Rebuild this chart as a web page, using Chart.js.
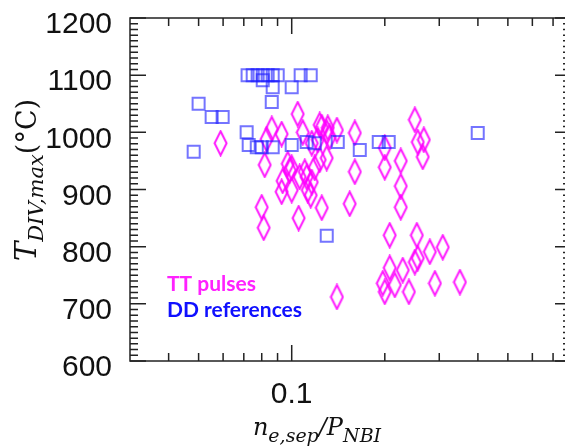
<!DOCTYPE html>
<html>
<head>
<meta charset="utf-8">
<script src="https://cdn.jsdelivr.net/npm/chart.js@4.4.1/dist/chart.umd.min.js"></script>
<style>
html, body { margin: 0; padding: 0; background: #fff; overflow: hidden; }
#wrap { width: 576px; height: 448px; }
</style>
</head>
<body>
<div id="wrap"><canvas id="chart"></canvas></div>
<script>
// DD references (blue squares)
const ddX = [0.0500, 0.0551, 0.0598, 0.0482, 0.0715, 0.0720, 0.0748, 0.0776, 0.0806, 0.0836,
             0.0868, 0.0901, 0.1069, 0.1152, 0.0806, 0.0868, 0.1000, 0.0862, 0.0726, 0.0771,
             0.0800, 0.0868, 0.1000, 0.1118, 0.1187, 0.1409, 0.1660, 0.1912, 0.2059, 0.3995, 0.1298];
const ddY = [1050, 1027, 1027, 966, 1000, 1100, 1100, 1100, 1100, 1100,
             1100, 1100, 1100, 1100, 1091, 1079, 1079, 1053, 978, 974,
             974, 974, 978, 983, 981, 983, 969, 983, 983, 999, 819];

// TT pulses (magenta diamonds)
const ttX = [0.0589, 0.1046, 0.0862, 0.0928, 0.0830, 0.0818, 0.0971, 0.1000, 0.0935, 0.0928,
             0.1000, 0.1118, 0.1127, 0.1152, 0.1161, 0.1187, 0.1232, 0.0800, 0.0812, 0.1053,
             0.1251, 0.1600, 0.1540, 0.1600, 0.2000, 0.2000, 0.2253, 0.2253, 0.2253, 0.2501,
             0.2557, 0.2674, 0.2653, 0.2075, 0.2539, 0.3080, 0.2797, 0.2501, 0.2557, 0.2075,
             0.2286, 0.1970, 0.2000, 0.2155, 0.2393, 0.2904, 0.3498, 0.1400, 0.1232, 0.1308,
             0.1400, 0.1298, 0.1328, 0.1214, 0.1161, 0.1086, 0.1251, 0.1298, 0.1102, 0.1061, 0.0985];
const ttY = [981, 1032, 1006, 997, 988, 943, 945, 938, 915, 896,
             899, 922, 899, 890, 913, 938, 952, 869, 833, 850,
             868, 931, 875, 999, 973, 939, 950, 906, 869, 1022,
             983, 987, 957, 820, 820, 799, 791, 773, 780, 763,
             759, 736, 721, 733, 721, 736, 738, 712, 1013, 1008,
             1004, 1000, 992, 987, 981, 1000, 1009, 955, 931, 922, 934];

const yTicks = [600, 700, 800, 900, 1000, 1100, 1200];
const xTicks = [0.1];
const xMinorTicks = [0.04, 0.05, 0.06, 0.07, 0.08, 0.09, 0.2, 0.3, 0.4, 0.5, 0.6, 0.7];
const seriesNames = ['TT pulses', 'DD references'];

// tall diamond marker
function makeDiamond() {
    const c = document.createElement('canvas');
    c.width = 15;
    c.height = 27;
    const g = c.getContext('2d');
    g.strokeStyle = 'rgba(255,0,255,0.9)';
    g.lineWidth = 2;
    g.beginPath();
    g.moveTo(7.5, 1.5);
    g.lineTo(13.5, 13.5);
    g.lineTo(7.5, 25.5);
    g.lineTo(1.5, 13.5);
    g.closePath();
    g.stroke();
    return c;
}

// draw text pieces in a row, subscripts shifted down
function drawParts(ctx, parts, cx, baseY) {
    let total = 0;
    parts.forEach(p => { ctx.font = p.font; p.w = ctx.measureText(p.text).width; total += p.w; });
    let px = cx - total / 2;
    ctx.textAlign = 'left';
    ctx.textBaseline = 'alphabetic';
    parts.forEach(p => {
        ctx.font = p.font;
        ctx.fillText(p.text, px, baseY + (p.dy || 0));
        px += p.w;
    });
}

// frame with inward ticks
const frameTicks = {
    id: 'frameTicks',
    beforeDatasetsDraw(chart) {
        const { ctx, chartArea: a, scales: { x, y } } = chart;
        ctx.save();
        ctx.strokeStyle = '#222';
        ctx.lineWidth = 1.5;
        ctx.strokeRect(a.left, a.top, a.right - a.left, a.bottom - a.top);
        ctx.beginPath();
        for (let v = yTicks[0]; v <= yTicks[yTicks.length - 1]; v += 10) {
            const py = y.getPixelForValue(v);
            const len = yTicks.includes(v) ? 16 : 8;
            ctx.moveTo(a.left, py); ctx.lineTo(a.left + len, py);
            ctx.moveTo(a.right, py); ctx.lineTo(a.right - len, py);
        }
        xMinorTicks.concat(xTicks).forEach(v => {
            const px = x.getPixelForValue(v);
            const len = xTicks.includes(v) ? 16 : 8;
            ctx.moveTo(px, a.bottom); ctx.lineTo(px, a.bottom - len);
            ctx.moveTo(px, a.top); ctx.lineTo(px, a.top + len);
        });
        ctx.stroke();
        ctx.restore();
    },
    afterDraw(chart) {
        const { ctx } = chart;
        ctx.save();
        ctx.fillStyle = '#111';
        // x title
        drawParts(ctx, [
            { text: 'n', font: 'italic 24px "DejaVu Serif"' },
            { text: 'e,sep', font: 'italic 19px "DejaVu Serif"', dy: 7 },
            { text: '/', font: 'italic 24px "DejaVu Serif"' },
            { text: 'P', font: 'italic 24px "DejaVu Serif"' },
            { text: 'NBI', font: 'italic 19px "DejaVu Serif"', dy: 7 }
        ], 317, 435);
        // y title
        ctx.translate(36, 180);
        ctx.rotate(-Math.PI / 2);
        drawParts(ctx, [
            { text: 'T', font: 'italic 29px "DejaVu Serif"' },
            { text: 'DIV,max', font: 'italic 21px "DejaVu Serif"', dy: 7 },
            { text: '(°C)', font: '27px "DejaVu Serif"' }
        ], 0, 0);
        ctx.restore();

        // legend text
        ctx.save();
        ctx.font = 'bold 21px Lato';
        ctx.textAlign = 'left';
        ctx.textBaseline = 'alphabetic';
        ctx.fillStyle = '#ff22ff';
        ctx.fillText(seriesNames[0], 167, 291);
        ctx.fillStyle = '#1010ff';
        ctx.fillText(seriesNames[1], 167, 317);
        ctx.restore();
    }
};

// no automatic label padding, the frame is placed by hand
function noPad(scale) {
    scale.paddingTop = 0;
    scale.paddingBottom = 0;
    scale.paddingLeft = 0;
    scale.paddingRight = 0;
}

const ddPoints = ddX.map((v, i) => ({ x: v, y: ddY[i] }));
const ttPoints = ttX.map((v, i) => ({ x: v, y: ttY[i] }));

new Chart(document.getElementById('chart'), {
    type: 'scatter',
    data: {
        datasets: [{
            label: seriesNames[1],
            data: ddPoints,
            pointStyle: 'rect',
            pointRadius: 8.5,
            pointHoverRadius: 8.5,
            borderWidth: 2,
            borderColor: 'rgba(30,30,255,0.62)',
            backgroundColor: 'rgba(0,0,0,0)'
        }, {
            label: seriesNames[0],
            data: ttPoints,
            pointStyle: makeDiamond(),
            pointRadius: 8,
            borderColor: '#ff00ff',
            backgroundColor: 'rgba(0,0,0,0)'
        }]
    },
    options: {
        responsive: true,
        maintainAspectRatio: false,
        animation: false,
        events: [],
        layout: { autoPadding: false, padding: { top: 18, right: 5, left: 0, bottom: 0 } },
        plugins: { legend: { display: false }, tooltip: { enabled: false } },
        scales: {
            x: {
                type: 'logarithmic',
                min: 0.03,
                max: 0.8,
                grid: { display: false, drawTicks: false },
                border: { display: false },
                afterBuildTicks: scale => { scale.ticks = xTicks.map(v => ({ value: v })); },
                afterFit: scale => { scale.height = 87; noPad(scale); },
                ticks: {
                    autoSkip: false,
                    maxRotation: 0,
                    padding: 16,
                    color: '#111',
                    font: { family: '"Liberation Sans"', size: 30 },
                    callback: v => String(v)
                }
            },
            y: {
                min: 600,
                max: 1200,
                grid: { display: false, drawTicks: false },
                border: { display: false },
                afterBuildTicks: scale => { scale.ticks = yTicks.map(v => ({ value: v })); },
                afterFit: scale => { scale.width = 130; noPad(scale); },
                ticks: {
                    padding: 18,
                    labelOffset: 7,
                    color: '#111',
                    font: { family: '"Liberation Sans"', size: 30 },
                    callback: v => String(v)
                }
            }
        }
    },
    plugins: [frameTicks]
});
</script>
</body>
</html>
